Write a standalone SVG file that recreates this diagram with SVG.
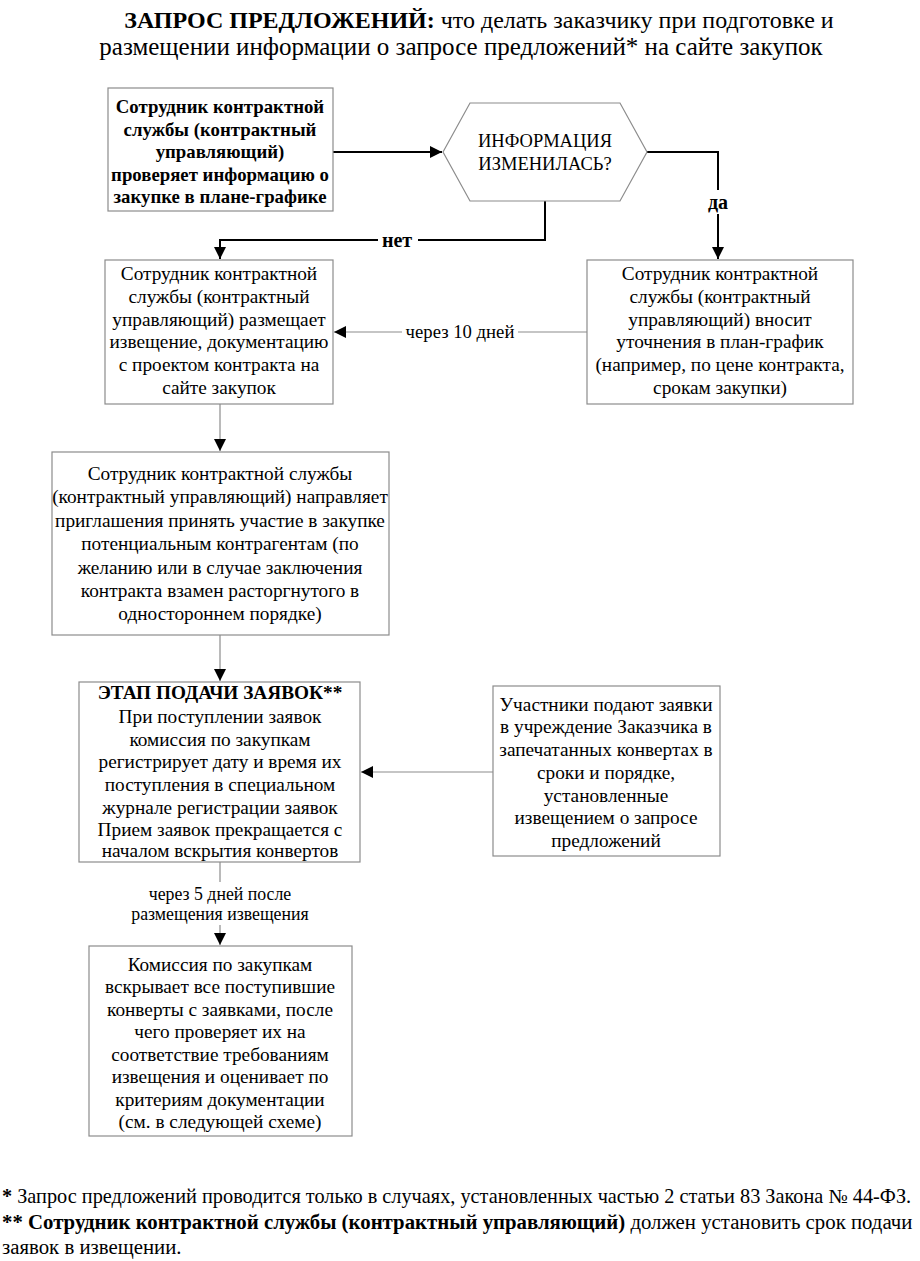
<svg xmlns="http://www.w3.org/2000/svg" width="920" height="1261" viewBox="0 0 920 1261">
<style>
text{font-family:'Liberation Serif','Times New Roman',serif;fill:#000}
.t{font-size:19.3px;text-anchor:middle}
.h{font-size:18.5px;text-anchor:middle}
.bb{font-size:18.8px;font-weight:bold;text-anchor:middle}
.b{font-weight:bold}
.box{fill:#fff;stroke:#8c8c8c;stroke-width:1.2}
.c1{fill:none;stroke:#000;stroke-width:2}
.c2{fill:none;stroke:#8c8c8c;stroke-width:1.2}
.title{text-anchor:middle}
.fn{font-size:20.5px}
.yn{font-size:20px;font-weight:bold;text-anchor:middle}
.l1{font-size:18.7px;text-anchor:middle}
.l2{font-size:17.8px;text-anchor:middle}
</style>
<defs>
<marker id="ah" viewBox="0 0 10 10" refX="10" refY="5" markerWidth="12" markerHeight="12" markerUnits="userSpaceOnUse" orient="auto"><path d="M0,0 L10,5 L0,10 z" fill="#000"/></marker>
</defs>
<rect width="920" height="1261" fill="#fff"/>
<g id="title">
<text class="title" x="479" y="28" font-size="24"><tspan font-weight="bold">ЗАПРОС ПРЕДЛОЖЕНИЙ:</tspan> что делать заказчику при подготовке и</text>
<text class="title" x="461" y="55" font-size="25">размещении информации о запросе предложений* на сайте закупок</text>
</g>
<g id="connectors">
<line class="c1" x1="333" y1="152" x2="442" y2="152" marker-end="url(#ah)"/>
<polyline class="c1" points="647,152 718,152 718,190"/>
<line class="c1" x1="718" y1="214" x2="718" y2="259" marker-end="url(#ah)"/>
<polyline class="c1" points="545,201 545,240 418,240"/>
<polyline class="c1" points="378,240 220,240 220,259" marker-end="url(#ah)"/>
<line class="c2" x1="587" y1="332" x2="518" y2="332"/>
<line class="c2" x1="402" y1="332" x2="334" y2="332" marker-end="url(#ah)"/>
<line class="c2" x1="220" y1="404" x2="220" y2="451" marker-end="url(#ah)"/>
<line class="c2" x1="220" y1="635" x2="220" y2="681" marker-end="url(#ah)"/>
<line class="c2" x1="493" y1="772" x2="361" y2="772" marker-end="url(#ah)"/>
<line class="c2" x1="220" y1="862" x2="220" y2="882"/>
<line class="c2" x1="220" y1="925" x2="220" y2="945" marker-end="url(#ah)"/>
<text class="yn" x="397" y="247">нет</text>
<text class="yn" x="718" y="209">да</text>
<text class="l1" x="460" y="338">через 10 дней</text>
<text class="l2" x="220" y="900">через 5 дней после</text>
<text class="l2" x="220" y="920">размещения извещения</text>
</g>
<g id="n1">
<rect class="box" x="108" y="88" width="225" height="123"/>
<text class="bb" x="220" y="113">Сотрудник контрактной</text>
<text class="bb" x="220" y="136">службы (контрактный</text>
<text class="bb" x="220" y="158">управляющий)</text>
<text class="bb" x="220" y="181">проверяет информацию о</text>
<text class="bb" x="220" y="203">закупке в плане-графике</text>
</g>
<g id="n2">
<polygon class="box" points="443,152 470,103 620,103 647,152 620,201 470,201"/>
<text class="h" x="545" y="147">ИНФОРМАЦИЯ</text>
<text class="h" x="545" y="170">ИЗМЕНИЛАСЬ?</text>
</g>
<g id="n3">
<rect class="box" x="105" y="260" width="228" height="144"/>
<text class="t" x="219" y="280">Сотрудник контрактной</text>
<text class="t" x="219" y="303">службы (контрактный</text>
<text class="t" x="219" y="326">управляющий) размещает</text>
<text class="t" x="219" y="348">извещение, документацию</text>
<text class="t" x="219" y="371">с проектом контракта на</text>
<text class="t" x="219" y="394">сайте закупок</text>
</g>
<g id="n4">
<rect class="box" x="587" y="260" width="266" height="144"/>
<text class="t" x="720" y="280">Сотрудник контрактной</text>
<text class="t" x="720" y="303">службы (контрактный</text>
<text class="t" x="720" y="326">управляющий) вносит</text>
<text class="t" x="720" y="348">уточнения в план-график</text>
<text class="t" x="720" y="371">(например, по цене контракта,</text>
<text class="t" x="720" y="394">срокам закупки)</text>
</g>
<g id="n5">
<rect class="box" x="52" y="452" width="337" height="183"/>
<text class="t" x="220" y="480">Сотрудник контрактной службы</text>
<text class="t" x="220" y="503">(контрактный управляющий) направляет</text>
<text class="t" x="220" y="527">приглашения принять участие в закупке</text>
<text class="t" x="220" y="550">потенциальным контрагентам (по</text>
<text class="t" x="220" y="574">желанию или в случае заключения</text>
<text class="t" x="220" y="597">контракта взамен расторгнутого в</text>
<text class="t" x="220" y="620">одностороннем порядке)</text>
</g>
<g id="n6">
<rect class="box" x="79" y="682" width="281" height="180"/>
<text class="t b" x="220" y="699">ЭТАП ПОДАЧИ ЗАЯВОК**</text>
<text class="t" x="220" y="723">При поступлении заявок</text>
<text class="t" x="220" y="746">комиссия по закупкам</text>
<text class="t" x="220" y="768">регистрирует дату и время их</text>
<text class="t" x="220" y="791">поступления в специальном</text>
<text class="t" x="220" y="814">журнале регистрации заявок</text>
<text class="t" x="220" y="836">Прием заявок прекращается с</text>
<text class="t" x="220" y="857">началом вскрытия конвертов</text>
</g>
<g id="n7">
<rect class="box" x="493" y="686" width="227" height="170"/>
<text class="t" x="606" y="711">Участники подают заявки</text>
<text class="t" x="606" y="733">в учреждение Заказчика в</text>
<text class="t" x="606" y="756">запечатанных конвертах в</text>
<text class="t" x="606" y="779">сроки и порядке,</text>
<text class="t" x="606" y="802">установленные</text>
<text class="t" x="606" y="824">извещением о запросе</text>
<text class="t" x="606" y="847">предложений</text>
</g>
<g id="n8">
<rect class="box" x="89" y="946" width="263" height="190"/>
<text class="t" x="220" y="971">Комиссия по закупкам</text>
<text class="t" x="220" y="993">вскрывает все поступившие</text>
<text class="t" x="220" y="1016">конверты с заявками, после</text>
<text class="t" x="220" y="1038">чего проверяет их на</text>
<text class="t" x="220" y="1061">соответствие требованиям</text>
<text class="t" x="220" y="1083">извещения и оценивает по</text>
<text class="t" x="220" y="1106">критериям документации</text>
<text class="t" x="220" y="1128">(см. в следующей схеме)</text>
</g>
<g id="footnotes">
<text class="fn" x="2" y="1203" font-size="20.3" style="font-size:20.3px"><tspan font-weight="bold">*</tspan> Запрос предложений проводится только в случаях, установленных частью 2 статьи 83 Закона № 44-ФЗ.</text>
<text class="fn" x="2" y="1229" style="font-size:20.8px"><tspan font-weight="bold">** Сотрудник контрактной службы (контрактный управляющий)</tspan> должен установить срок подачи</text>
<text class="fn" x="2" y="1254" style="font-size:20.8px">заявок в извещении.</text>
</g>
</svg>
